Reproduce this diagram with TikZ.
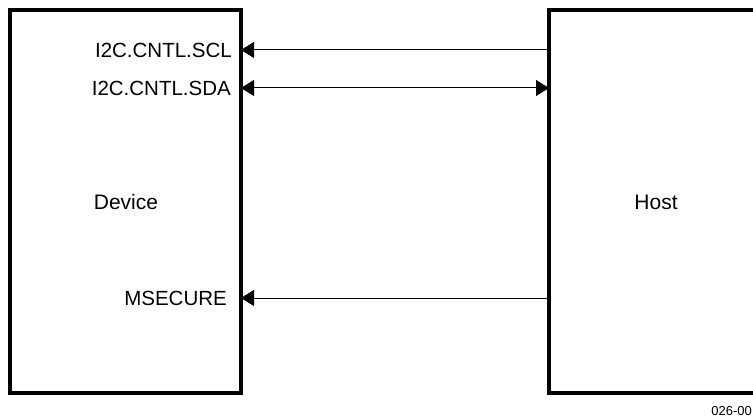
\documentclass[tikz,border=0pt]{standalone}
\usepackage{fontspec}
\setmainfont{Liberation Sans}
\usetikzlibrary{arrows.meta,positioning,calc}

\begin{document}
\begin{tikzpicture}[
			x=1pt, y=-1pt,
			blk/.style={draw=black, line width=3.2pt, inner sep=0pt, outer sep=0pt, minimum width=231pt, minimum height=383pt},
			pin/.style={anchor=east, inner sep=0pt, font=\fontsize{20.5}{24}\selectfont},
			sig/.style={line width=1pt, -{Triangle[length=13pt,width=16pt]}}]
		\useasboundingbox (0,0) rectangle (753,417);
		\clip (0,0) rectangle (753,417);
		\node 	(dev) 	[blk, anchor=north west] at (10,10) {};
		\node 	(host) 	[blk, anchor=north west, minimum width=260pt] at (549,10) {};
		\path 	(126,202) node (devtxt) [font=\fontsize{21}{25}\selectfont] {Device}
		        (656,202) node (hosttxt) [font=\fontsize{21}{25}\selectfont] {Host}
		        (232,50)  node (scl) [pin] {I2C.CNTL.SCL}
		        (231,88)  node (sda) [pin] {I2C.CNTL.SDA}
		        (227,298) node (msec) [pin] {MSECURE}
		        (752,411) node (fig) [anchor=east, inner sep=0pt, font=\fontsize{13}{15}\selectfont] {026-00};
		\draw [sig] (host.west |- scl) -- (dev.east |- scl);
		\draw [sig, {Triangle[length=13pt,width=16pt]}-{Triangle[length=13pt,width=16pt]}] (dev.east |- sda) -- (host.west |- sda);
		\draw [sig] (host.west |- msec) -- (dev.east |- msec);
	\end{tikzpicture}
\end{document}
